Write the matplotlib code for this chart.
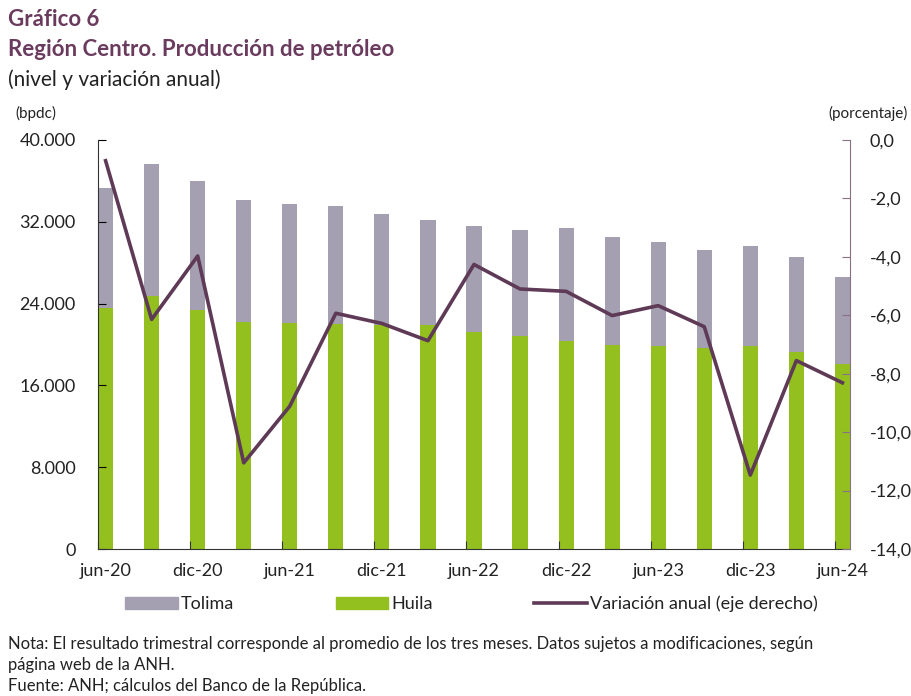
import numpy as np
import matplotlib.pyplot as plt
from matplotlib.patches import Patch
from matplotlib.lines import Line2D

plt.rcParams['font.family'] = ['Lato', 'DejaVu Sans']

# Datos (trimestres jun-20 a jun-24)
periodos = ['jun-20', 'sep-20', 'dic-20', 'mar-21', 'jun-21', 'sep-21', 'dic-21',
            'mar-22', 'jun-22', 'sep-22', 'dic-22', 'mar-23', 'jun-23', 'sep-23',
            'dic-23', 'mar-24', 'jun-24']
huila = [23600, 24740, 23370, 22230, 22100, 22000, 21900, 21870, 21250,
         20860, 20340, 19950, 19850, 19630, 19850, 19270, 18120]
tolima = [11680, 12910, 12650, 11930, 11670, 11510, 10860, 10280, 10370,
          10310, 11020, 10530, 10140, 9640, 9780, 9260, 8510]
variacion = [-0.71, -6.14, -3.97, -11.05, -9.11, -5.93, -6.28, -6.87, -4.26,
             -5.10, -5.18, -6.01, -5.67, -6.39, -11.47, -7.55, -8.31]

c_titulo = '#6b3b5e'
c_tolima = '#a59fb2'
c_huila = '#93c01f'
c_linea = '#5e3a56'
c_texto = '#222222'

fig = plt.figure(figsize=(9.12, 6.96), dpi=100)
ax = fig.add_axes([98 / 912, 1 - 549 / 696, 752 / 912, 409 / 696])

x = np.arange(len(periodos))
w = 0.33
ax.bar(x, huila, width=w, color=c_huila, linewidth=0)
ax.bar(x, tolima, bottom=huila, width=w, color=c_tolima, linewidth=0)

ax.set_xlim(-w / 2, len(periodos) - 1 + w / 2)
ax.set_ylim(0, 40000)
ax.set_yticks(np.arange(0, 40001, 8000))
ax.set_yticklabels([f'{v:,.0f}'.replace(',', '.') for v in np.arange(0, 40001, 8000)])

# marcas entre categorias y etiquetas centradas en la barra
ax.set_xticks(x[::2] - w / 2)
ax.set_xticklabels([])
ax.set_xticks(x[::2], minor=True)
ax.set_xticklabels(periodos[::2], minor=True)
ax.tick_params(axis='x', which='major', direction='in', length=6, color='#333333')
ax.tick_params(axis='x', which='minor', length=0, pad=10, labelsize=13, labelcolor=c_texto)
ax.tick_params(axis='y', direction='in', length=6, labelsize=13, labelcolor=c_texto, pad=16)

for s in ['top', 'right']:
    ax.spines[s].set_visible(False)
ax.spines['left'].set_color('#333333')
ax.spines['bottom'].set_color('#333333')

ax2 = ax.twinx()
ax2.plot(x, variacion, color=c_linea, lw=2.6)
ax2.set_ylim(-14, 0)
ax2.set_yticks(np.arange(-14, 0.1, 2))
ax2.set_yticklabels([f'{v:.1f}'.replace('.', ',') for v in np.arange(-14, 0.1, 2)])
ax2.tick_params(axis='y', direction='in', length=6, labelsize=13, labelcolor=c_texto,
                color='#8a7085', pad=14)
for s in ['top', 'left', 'bottom']:
    ax2.spines[s].set_visible(False)
ax2.spines['right'].set_color('#8a7085')

# Titulos
fig.text(8 / 912, 1 - 20 / 696, 'Gráfico 6', fontsize=16, fontweight='bold',
         color=c_titulo, va='center')
fig.text(8 / 912, 1 - 50 / 696, 'Región Centro. Producción de petróleo', fontsize=16,
         fontweight='bold', color=c_titulo, va='center')
fig.text(8 / 912, 1 - 80 / 696, '(nivel y variación anual)', fontsize=15,
         color=c_texto, va='center')
fig.text(15 / 912, 1 - 113 / 696, '(bpdc)', fontsize=11, color=c_texto, va='center')
fig.text(908 / 912, 1 - 113 / 696, '(porcentaje)', fontsize=11, color=c_texto,
         va='center', ha='right')

# Leyenda
handles = [Patch(color=c_tolima), Patch(color=c_huila),
           Line2D([], [], color=c_linea, lw=2.6)]
fig.legend(handles, ['Tolima', 'Huila', 'Variación anual (eje derecho)'],
           loc='center left', bbox_to_anchor=(109 / 912, 1 - 604 / 696), ncol=3,
           frameon=False, fontsize=13, handlelength=2.9, handleheight=0.7,
           columnspacing=5.6, handletextpad=0.2, labelcolor=c_texto)

# Notas
nota = ('Nota: El resultado trimestral corresponde al promedio de los tres meses. '
        'Datos sujetos a modificaciones, según\npágina web de la ANH.\n'
        'Fuente: ANH; cálculos del Banco de la República.')
fig.text(8 / 912, 1 - 636 / 696, nota, fontsize=12, color=c_texto, va='top',
         linespacing=1.4)

fig.savefig('out.png', dpi=100)
